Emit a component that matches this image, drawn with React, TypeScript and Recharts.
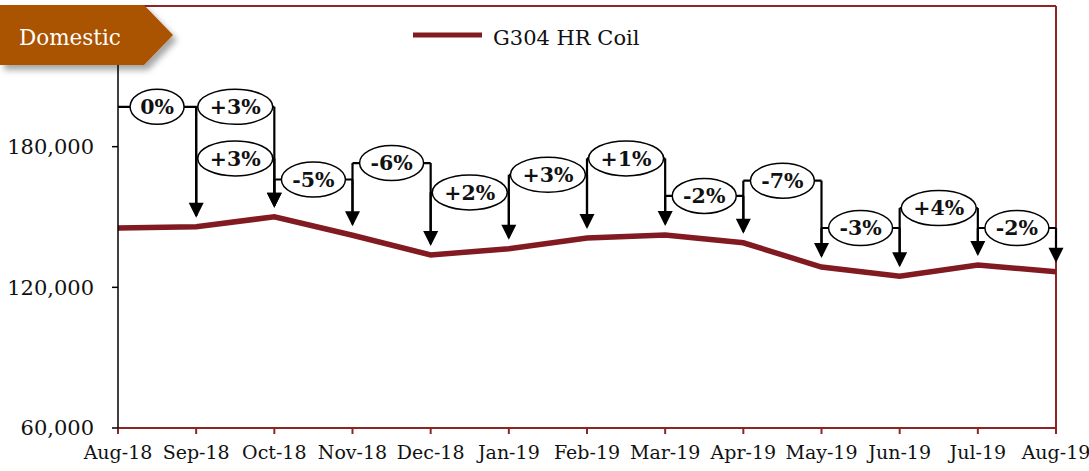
import { LineChart, Line, XAxis, YAxis, ReferenceLine } from "recharts";

const months = [
  "Aug-18", "Sep-18", "Oct-18", "Nov-18", "Dec-18", "Jan-19", "Feb-19",
  "Mar-19", "Apr-19", "May-19", "Jun-19", "Jul-19", "Aug-19",
];
const prices = [
  145300, 145800, 150100, 142200, 133800, 136500, 141000,
  142300, 139000, 128650, 124700, 129500, 126650,
];
const yTicks = [60000, 120000, 180000];

// change callouts: from month index, label, height of the bracket (in price units)
const noteFrom = [0, 1, 1, 2, 3, 4, 5, 6, 7, 8, 9, 10, 11];
const noteLabels = ["0%", "+3%", "+3%", "-5%", "-6%", "+2%", "+3%", "+1%", "-2%", "-7%", "-3%", "+4%", "-2%"];
const noteLevels = [197000, 197000, 175000, 166000, 173000, 160500, 168000, 175000, 159000, 165500, 145300, 153800, 145300];

const data = months.map((m, i) => ({ idx: i, month: m, price: prices[i] }));

const RED = "#8e2424";
const LINE = "#821a22";
const FONT = "'DejaVu Serif', serif";
const GAP = 9;
const HEAD = 15;

function noteRx(label: string) {
  if (label.length <= 2) return 27;
  return label.startsWith("+") ? 37.5 : 32;
}

function Note(props: any) {
  const { x1, y1, x2, y2, label } = props;
  const tip = y2 - GAP;
  const cx = (x1 + x2) / 2;
  return (
    <g>
      <line x1={x1} y1={y1} x2={x2} y2={y1} stroke="#000" strokeWidth={2.2} />
      <line x1={x2} y1={y1} x2={x2} y2={tip - HEAD + 2} stroke="#000" strokeWidth={2.2} />
      <polygon points={`${x2 - 7.5},${tip - HEAD} ${x2 + 7.5},${tip - HEAD} ${x2},${tip}`} fill="#000" />
      <ellipse cx={cx} cy={y1} rx={noteRx(label)} ry={17.5} fill="#fff" stroke="#000" strokeWidth={1.5} />
      <text
        x={cx}
        y={y1}
        dy="0.36em"
        textAnchor="middle"
        fontFamily={FONT}
        fontWeight="bold"
        fontSize={20.5}
        fill="#111"
      >
        {label}
      </text>
    </g>
  );
}

function Stem(props: any) {
  const { x1, y1, y2 } = props;
  return <line x1={x1} y1={y1} x2={x1} y2={y2 - GAP - 2} stroke="#000" strokeWidth={2.2} />;
}

export default function App() {
  return (
    <div style={{ position: "absolute", left: 0, top: 0, width: 1089, height: 471 }}>
      <LineChart
        width={1089}
        height={471}
        data={data}
        margin={{ top: 6, right: 33, bottom: 0, left: 0 }}
      >
        <XAxis
          dataKey="idx"
          type="number"
          domain={[0, 12]}
          ticks={months.map((_, i) => i)}
          interval={0}
          tickFormatter={(v: number) => months[v]}
          stroke={RED}
          strokeWidth={2}
          tickSize={6}
          tickMargin={12}
          height={43}
          tick={{ fill: "#111", fontSize: 19, fontFamily: FONT }}
        />
        <YAxis
          domain={[60000, 240000]}
          ticks={yTicks}
          interval={0}
          width={118}
          tickFormatter={(v: number) => v.toLocaleString("en-US")}
          stroke="#000"
          strokeWidth={1.5}
          tickSize={6}
          tickMargin={18}
          tick={{ fill: "#111", fontSize: 21, fontFamily: FONT }}
        />
        <ReferenceLine y={240000} stroke={RED} strokeWidth={2} />
        <ReferenceLine x={12} stroke={RED} strokeWidth={2} />
        <Line
          dataKey="price"
          type="linear"
          stroke={LINE}
          strokeWidth={5.5}
          dot={false}
          isAnimationActive={false}
        />
        {noteFrom.map((f, k) =>
          f > 0 ? (
            <ReferenceLine
              key={`stem-${k}`}
              segment={[
                { x: f, y: noteLevels[k] },
                { x: f, y: prices[f] },
              ]}
              shape={(p: any) => <Stem {...p} />}
            />
          ) : null
        )}
        {noteFrom.map((f, k) => (
          <ReferenceLine
            key={`note-${k}`}
            segment={[
              { x: f, y: noteLevels[k] },
              { x: f + 1, y: prices[f + 1] },
            ]}
            shape={(p: any) => <Note {...p} label={noteLabels[k]} />}
          />
        ))}
      </LineChart>
      <svg
        width={1089}
        height={80}
        style={{ position: "absolute", left: 0, top: 0, pointerEvents: "none" }}
      >
        <defs>
          <filter id="badgeShadow" x="-10%" y="-20%" width="130%" height="160%">
            <feDropShadow dx={4} dy={5} stdDeviation={3} floodColor="#000" floodOpacity={0.35} />
          </filter>
        </defs>
        <polygon points="0,5 144,5 173,35 144,65 0,65" fill="#aa5200" filter="url(#badgeShadow)" />
        <text x={19} y={45} fill="#fff" fontFamily={FONT} fontSize={21.5}>
          Domestic
        </text>
        <line x1={413} y1={35} x2={482} y2={35} stroke={LINE} strokeWidth={5} />
        <text x={493} y={45} fill="#111" fontFamily={FONT} fontSize={21}>
          G304 HR Coil
        </text>
      </svg>
    </div>
  );
}
